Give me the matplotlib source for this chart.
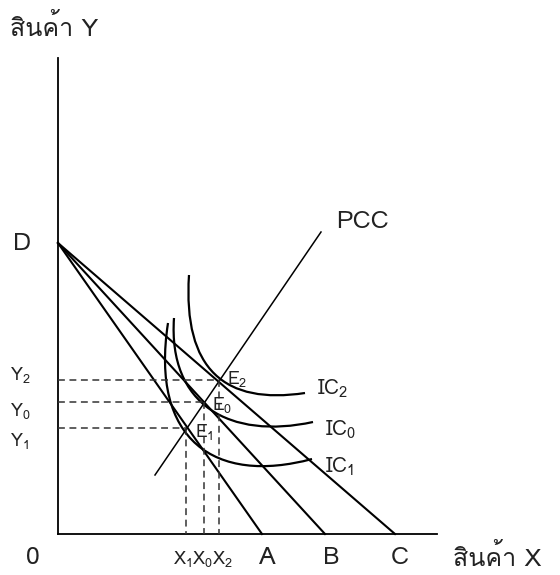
import matplotlib
matplotlib.use("Agg")
import matplotlib.pyplot as plt
from matplotlib import font_manager
from matplotlib.ft2font import FT2Font
from matplotlib.path import Path
from matplotlib.patches import PathPatch

# diagram points (pixel units, y grows downward)
origin = (58, 534)
y_axis_top = 58
x_axis_right = 437
D = (58, 243)
budget_ends = [262, 325, 395]          # A, B, C on the X axis
budget_names = ["A", "B", "C"]
E_x = [186, 204, 219]                  # E1, E0, E2
E_y = [428, 402, 380]
E_names = [r"$\mathregular{E_1}$", r"$\mathregular{E_0}$", r"$\mathregular{E_2}$"]
Y_names = [r"$\mathregular{Y_1}$", r"$\mathregular{Y_0}$", r"$\mathregular{Y_2}$"]
pcc_x = [155, 321]
pcc_y = [475, 232]

# indifference curves as cubic bezier control points (start, c1, c2, end)
ic1_pts = [(168, 323), (150, 440), (215, 485), (312, 459)]
ic0_pts = [(174, 318), (168, 405), (230, 440), (313, 422)]
ic2_pts = [(189, 275), (183, 370), (225, 405), (305, 393)]
ic_names = [r"$\mathregular{IC_1}$", r"$\mathregular{IC_0}$", r"$\mathregular{IC_2}$"]


def thai_family():
    found = []
    for f in font_manager.fontManager.ttflist:
        try:
            if ord("ส") in FT2Font(f.fname).get_charmap():
                found.append(f)
        except Exception:
            pass
    for f in found:
        if f.weight in (400, "normal", "regular") and f.style == "normal":
            return f.name
    return found[0].name if found else None


th = thai_family()
fams = ([th] if th else []) + ["DejaVu Sans"]
plt.rcParams["font.family"] = fams
plt.rcParams["mathtext.fontset"] = "custom"
tc = "#222222"

fig = plt.figure(figsize=(5.6, 5.75), dpi=100)
ax = fig.add_axes([0, 0, 1, 1])
ax.set_xlim(0, 560)
ax.set_ylim(575, 0)
ax.axis("off")

# axes
ax.plot([origin[0], origin[0]], [y_axis_top, origin[1]], color="black", lw=1.3)
ax.plot([origin[0], x_axis_right], [origin[1], origin[1]], color="black", lw=1.3)

# budget lines
for bx in budget_ends:
    ax.plot([D[0], bx], [D[1], origin[1]], color="black", lw=1.5)

# PCC
ax.plot(pcc_x, pcc_y, color="black", lw=1.1)

# dashed guides
for x, y in zip(E_x, E_y):
    ax.plot([origin[0], x], [y, y], color="#333333", lw=1.1, ls=(0, (4.5, 3)))
    ax.plot([x, x], [y, origin[1]], color="#333333", lw=1.1, ls=(0, (4.5, 3)))

# indifference curves
codes = [Path.MOVETO, Path.CURVE4, Path.CURVE4, Path.CURVE4]
for pts in (ic1_pts, ic0_pts, ic2_pts):
    ax.add_patch(PathPatch(Path(pts, codes), fill=False, edgecolor="black", lw=1.6))

# labels
ax.text(10, 27, "สินค้า Y", fontsize=18, color=tc, va="center", ha="left")
ax.text(453, 557, "สินค้า X", fontsize=18, color=tc, va="center", ha="left")
ax.text(33, 558, "0", fontsize=18, color=tc, ha="center", va="center")
ax.text(22, 244, "D", fontsize=18, color=tc, ha="center", va="center")
ax.text(336, 221, "PCC", fontsize=18, color=tc, ha="left", va="center")
for name, bx in zip(budget_names, [267, 331, 400]):
    ax.text(bx, 557, name, fontsize=18, color=tc, ha="center", va="center")
ax.text(173, 559, r"$\mathregular{X_1X_0X_2}$", fontsize=13, color=tc, ha="left", va="center")

for name, y in zip(Y_names, [441, 411, 375]):
    ax.text(10, y, name, fontsize=13, color=tc, ha="left", va="center")
for name, x, y in zip(E_names, [195, 212, 227], [432, 405, 379]):
    ax.text(x, y, name, fontsize=13, color=tc, ha="left", va="center")
for name, x, y in zip(ic_names, [325, 325, 317], [467, 430, 389]):
    ax.text(x, y, name, fontsize=15, color=tc, ha="left", va="center")

fig.savefig("out.png", dpi=100)
